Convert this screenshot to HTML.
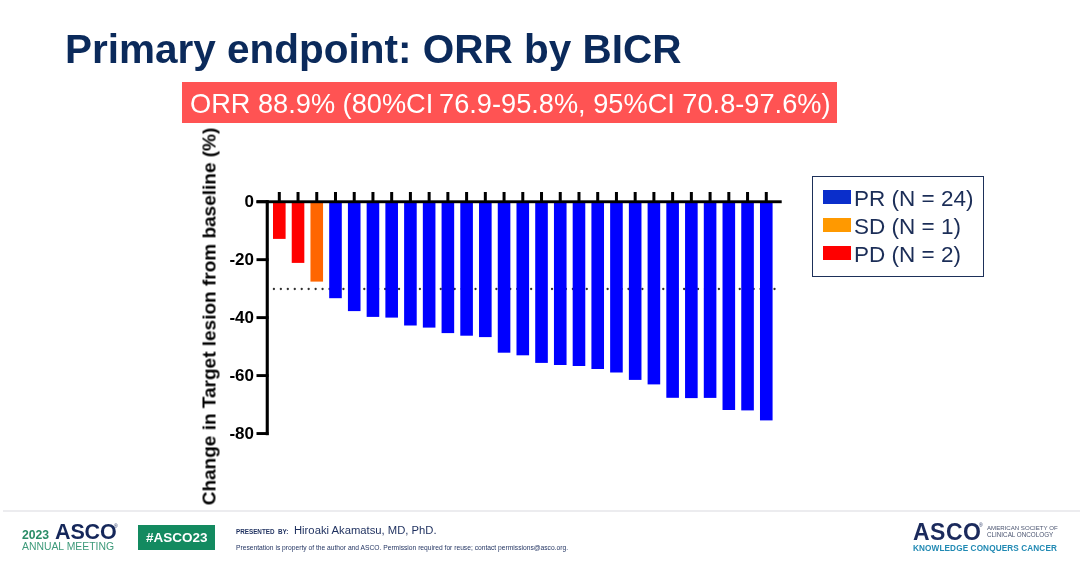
<!DOCTYPE html>
<html><head><meta charset="utf-8">
<style>
*{margin:0;padding:0;box-sizing:border-box}
html,body{width:1080px;height:564px;overflow:hidden;background:#fff}
body{position:relative;font-family:"Liberation Sans",sans-serif;-webkit-font-smoothing:antialiased}
.abs,.lt,.yl{will-change:transform}
.abs{position:absolute;white-space:nowrap}
#title{left:65px;top:29px;font-size:40.5px;line-height:40px;font-weight:bold;color:#0b2a5b}
#orr{left:181.5px;top:82.2px;width:654.5px;height:41.1px;background:#ff5353}
#orrt{left:189.9px;top:89px;font-size:27.2px;line-height:30px;color:#fff}
.yl{position:absolute;right:825.8px;width:40px;text-align:right;font-size:17px;line-height:20px;font-weight:bold;color:#000}
#ylab{left:19px;top:305.5px;width:380px;height:21px;line-height:21px;font-size:19px;font-weight:bold;text-align:center;transform:rotate(-90deg);color:#000}
#leg{left:811.8px;top:176.4px;width:171.8px;height:100.8px;border:1.7px solid #1d3059}
.sw{position:absolute;left:823px;width:28px;height:14.3px}
.lt{position:absolute;left:854.3px;font-size:22.5px;line-height:24px;color:#1b2d57}
#sep{left:3px;top:509.8px;width:1077px;height:2px;background:#ececef}
</style></head><body>
<div class="abs" id="title">Primary endpoint: ORR by BICR</div>
<div class="abs" id="orr"></div>
<div class="abs" id="orrt">ORR 88.9% (80%CI<span style="letter-spacing:-1.8px"> </span>76.9-95.8%, 95%CI 70.8-97.6%)</div>
<div class="abs" id="ylab">Change in Target lesion from baseline (%)</div>
<div class="yl" style="top:191.7px">0</div><div class="yl" style="top:249.7px">-20</div><div class="yl" style="top:307.6px">-40</div><div class="yl" style="top:365.6px">-60</div><div class="yl" style="top:423.5px">-80</div>
<svg class="abs" style="left:0;top:0" width="1080" height="564" viewBox="0 0 1080 564">
<g fill="#303030"><circle cx="273.90" cy="289" r="1.15"/><circle cx="280.85" cy="289" r="1.15"/><circle cx="287.81" cy="289" r="1.15"/><circle cx="294.76" cy="289" r="1.15"/><circle cx="301.71" cy="289" r="1.15"/><circle cx="308.66" cy="289" r="1.15"/><circle cx="315.62" cy="289" r="1.15"/><circle cx="322.57" cy="289" r="1.15"/><circle cx="329.52" cy="289" r="1.15"/><circle cx="336.48" cy="289" r="1.15"/><circle cx="343.43" cy="289" r="1.15"/><circle cx="350.38" cy="289" r="1.15"/><circle cx="357.34" cy="289" r="1.15"/><circle cx="364.29" cy="289" r="1.15"/><circle cx="371.24" cy="289" r="1.15"/><circle cx="378.19" cy="289" r="1.15"/><circle cx="385.15" cy="289" r="1.15"/><circle cx="392.10" cy="289" r="1.15"/><circle cx="399.05" cy="289" r="1.15"/><circle cx="406.01" cy="289" r="1.15"/><circle cx="412.96" cy="289" r="1.15"/><circle cx="419.91" cy="289" r="1.15"/><circle cx="426.87" cy="289" r="1.15"/><circle cx="433.82" cy="289" r="1.15"/><circle cx="440.77" cy="289" r="1.15"/><circle cx="447.73" cy="289" r="1.15"/><circle cx="454.68" cy="289" r="1.15"/><circle cx="461.63" cy="289" r="1.15"/><circle cx="468.58" cy="289" r="1.15"/><circle cx="475.54" cy="289" r="1.15"/><circle cx="482.49" cy="289" r="1.15"/><circle cx="489.44" cy="289" r="1.15"/><circle cx="496.40" cy="289" r="1.15"/><circle cx="503.35" cy="289" r="1.15"/><circle cx="510.30" cy="289" r="1.15"/><circle cx="517.25" cy="289" r="1.15"/><circle cx="524.21" cy="289" r="1.15"/><circle cx="531.16" cy="289" r="1.15"/><circle cx="538.11" cy="289" r="1.15"/><circle cx="545.07" cy="289" r="1.15"/><circle cx="552.02" cy="289" r="1.15"/><circle cx="558.97" cy="289" r="1.15"/><circle cx="565.93" cy="289" r="1.15"/><circle cx="572.88" cy="289" r="1.15"/><circle cx="579.83" cy="289" r="1.15"/><circle cx="586.78" cy="289" r="1.15"/><circle cx="593.74" cy="289" r="1.15"/><circle cx="600.69" cy="289" r="1.15"/><circle cx="607.64" cy="289" r="1.15"/><circle cx="614.60" cy="289" r="1.15"/><circle cx="621.55" cy="289" r="1.15"/><circle cx="628.50" cy="289" r="1.15"/><circle cx="635.46" cy="289" r="1.15"/><circle cx="642.41" cy="289" r="1.15"/><circle cx="649.36" cy="289" r="1.15"/><circle cx="656.32" cy="289" r="1.15"/><circle cx="663.27" cy="289" r="1.15"/><circle cx="670.22" cy="289" r="1.15"/><circle cx="677.17" cy="289" r="1.15"/><circle cx="684.13" cy="289" r="1.15"/><circle cx="691.08" cy="289" r="1.15"/><circle cx="698.03" cy="289" r="1.15"/><circle cx="704.99" cy="289" r="1.15"/><circle cx="711.94" cy="289" r="1.15"/><circle cx="718.89" cy="289" r="1.15"/><circle cx="725.85" cy="289" r="1.15"/><circle cx="732.80" cy="289" r="1.15"/><circle cx="739.75" cy="289" r="1.15"/><circle cx="746.70" cy="289" r="1.15"/><circle cx="753.66" cy="289" r="1.15"/><circle cx="760.61" cy="289" r="1.15"/><circle cx="767.56" cy="289" r="1.15"/><circle cx="774.52" cy="289" r="1.15"/></g>
<rect x="273.00" y="202" width="12.6" height="36.90" fill="#ff0000"/>
<rect x="291.73" y="202" width="12.6" height="60.90" fill="#ff0000"/>
<rect x="310.46" y="202" width="12.6" height="79.60" fill="#ff6600"/>
<rect x="329.19" y="202" width="12.6" height="96.20" fill="#0000ff"/>
<rect x="347.92" y="202" width="12.6" height="109.10" fill="#0000ff"/>
<rect x="366.65" y="202" width="12.6" height="114.90" fill="#0000ff"/>
<rect x="385.38" y="202" width="12.6" height="115.60" fill="#0000ff"/>
<rect x="404.11" y="202" width="12.6" height="123.50" fill="#0000ff"/>
<rect x="422.84" y="202" width="12.6" height="125.60" fill="#0000ff"/>
<rect x="441.57" y="202" width="12.6" height="131.10" fill="#0000ff"/>
<rect x="460.30" y="202" width="12.6" height="133.70" fill="#0000ff"/>
<rect x="479.03" y="202" width="12.6" height="135.10" fill="#0000ff"/>
<rect x="497.76" y="202" width="12.6" height="150.70" fill="#0000ff"/>
<rect x="516.49" y="202" width="12.6" height="153.30" fill="#0000ff"/>
<rect x="535.22" y="202" width="12.6" height="160.90" fill="#0000ff"/>
<rect x="553.95" y="202" width="12.6" height="163.00" fill="#0000ff"/>
<rect x="572.68" y="202" width="12.6" height="164.00" fill="#0000ff"/>
<rect x="591.41" y="202" width="12.6" height="167.00" fill="#0000ff"/>
<rect x="610.14" y="202" width="12.6" height="170.50" fill="#0000ff"/>
<rect x="628.87" y="202" width="12.6" height="177.90" fill="#0000ff"/>
<rect x="647.60" y="202" width="12.6" height="182.40" fill="#0000ff"/>
<rect x="666.33" y="202" width="12.6" height="195.80" fill="#0000ff"/>
<rect x="685.06" y="202" width="12.6" height="196.10" fill="#0000ff"/>
<rect x="703.79" y="202" width="12.6" height="195.90" fill="#0000ff"/>
<rect x="722.52" y="202" width="12.6" height="208.00" fill="#0000ff"/>
<rect x="741.25" y="202" width="12.6" height="208.40" fill="#0000ff"/>
<rect x="759.98" y="202" width="12.6" height="218.40" fill="#0000ff"/>
<g fill="#000"><rect x="277.80" y="192" width="3" height="10"/><rect x="296.53" y="192" width="3" height="10"/><rect x="315.26" y="192" width="3" height="10"/><rect x="333.99" y="192" width="3" height="10"/><rect x="352.72" y="192" width="3" height="10"/><rect x="371.45" y="192" width="3" height="10"/><rect x="390.18" y="192" width="3" height="10"/><rect x="408.91" y="192" width="3" height="10"/><rect x="427.64" y="192" width="3" height="10"/><rect x="446.37" y="192" width="3" height="10"/><rect x="465.10" y="192" width="3" height="10"/><rect x="483.83" y="192" width="3" height="10"/><rect x="502.56" y="192" width="3" height="10"/><rect x="521.29" y="192" width="3" height="10"/><rect x="540.02" y="192" width="3" height="10"/><rect x="558.75" y="192" width="3" height="10"/><rect x="577.48" y="192" width="3" height="10"/><rect x="596.21" y="192" width="3" height="10"/><rect x="614.94" y="192" width="3" height="10"/><rect x="633.67" y="192" width="3" height="10"/><rect x="652.40" y="192" width="3" height="10"/><rect x="671.13" y="192" width="3" height="10"/><rect x="689.86" y="192" width="3" height="10"/><rect x="708.59" y="192" width="3" height="10"/><rect x="727.32" y="192" width="3" height="10"/><rect x="746.05" y="192" width="3" height="10"/><rect x="764.78" y="192" width="3" height="10"/></g>
<rect x="256.5" y="200.3" width="525.2" height="2.9" fill="#000"/>
<rect x="265.7" y="200.3" width="3.1" height="234.9" fill="#000"/>
<g fill="#000"><rect x="256.5" y="200.25" width="12" height="2.9"/><rect x="256.5" y="258.21" width="12" height="2.9"/><rect x="256.5" y="316.17" width="12" height="2.9"/><rect x="256.5" y="374.13" width="12" height="2.9"/><rect x="256.5" y="432.09" width="12" height="2.9"/></g>

</svg>
<div class="abs" id="leg"></div>
<div class="sw" style="top:189.6px;background:#0a2ecb"></div>
<div class="sw" style="top:217.7px;background:#ff9900"></div>
<div class="sw" style="top:245.8px;background:#ff0000"></div>
<div class="lt" style="top:186.8px">PR (N = 24)</div>
<div class="lt" style="top:214.9px">SD (N = 1)</div>
<div class="lt" style="top:243px">PD (N = 2)</div>
<div class="abs" id="sep"></div>
<!-- footer -->
<div class="abs" style="left:22px;top:528.2px;font-size:12.2px;line-height:14px;font-weight:bold;color:#2a8c66">2023</div>
<div class="abs" style="left:54.6px;top:521px;font-size:21.5px;line-height:22px;font-weight:bold;color:#15275a;letter-spacing:-0.15px">ASCO</div>
<div class="abs" style="left:113.5px;top:523px;font-size:5px;line-height:6px;color:#15275a">&#174;</div>
<div class="abs" style="left:22.2px;top:541.4px;font-size:10.4px;line-height:12px;color:#3d9a7a">ANNUAL MEETING</div>
<div class="abs" style="left:137.5px;top:524.6px;width:77.4px;height:25.1px;background:#138a60"></div>
<div class="abs" style="left:145.8px;top:529.8px;font-size:13.5px;line-height:16px;font-weight:bold;color:#fff">#ASCO23</div>
<div class="abs" style="left:236px;top:528.2px;font-size:6.3px;line-height:8px;font-weight:bold;color:#1d2f5e">PRESENTED&nbsp; BY:</div>
<div class="abs" style="left:294.3px;top:524.4px;font-size:11.25px;line-height:13px;color:#1d2f5e">Hiroaki Akamatsu, MD, PhD.</div>
<div class="abs" style="left:236px;top:543.5px;font-size:6.7px;line-height:8px;color:#1d2f5e">Presentation is property of the author and ASCO. Permission required for reuse; contact permissions@asco.org.</div>
<div class="abs" style="left:913px;top:520.3px;font-size:23px;line-height:24px;font-weight:bold;color:#1b2a5c;letter-spacing:0.5px">ASCO</div>
<div class="abs" style="left:978.5px;top:521.8px;font-size:5px;line-height:6px;color:#1b2a5c">&#174;</div>
<div class="abs" style="left:986.5px;top:524px;font-size:6.1px;line-height:7px;color:#4a5470">AMERICAN SOCIETY OF</div>
<div class="abs" style="left:986.5px;top:530.9px;font-size:6.3px;line-height:7px;color:#4a5470">CLINICAL ONCOLOGY</div>
<div class="abs" style="left:913px;top:543.9px;font-size:8.2px;line-height:10px;font-weight:bold;color:#2089b3;letter-spacing:0.12px">KNOWLEDGE CONQUERS CANCER</div>
</body></html>
